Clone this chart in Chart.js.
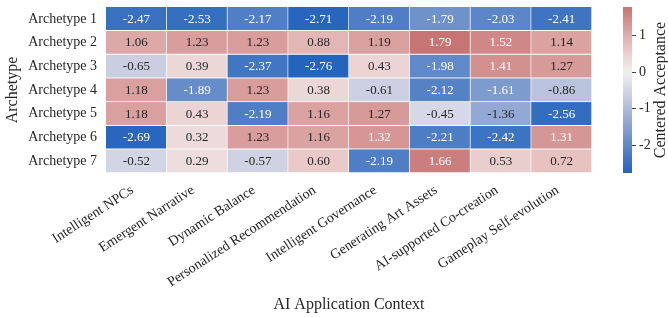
<!DOCTYPE html>
<html>
<head>
<meta charset="utf-8">
<script src="https://cdn.jsdelivr.net/npm/chart.js@4.4.1/dist/chart.umd.min.js"></script>
<style>
  html, body { margin: 0; padding: 0; background: #fff; }
  #wrap { position: relative; width: 668px; height: 318px; }
  #chart { position: absolute; left: 0; top: 0; }
  #cbar { position: absolute; left: 612px; top: 0; }
</style>
</head>
<body>
<div id="wrap">
  <canvas id="chart" width="668" height="318"></canvas>
  <canvas id="cbar" width="56" height="318"></canvas>
</div>
<script>
/* ── Data ── */
const archetypes = ["Archetype 1", "Archetype 2", "Archetype 3", "Archetype 4", "Archetype 5", "Archetype 6", "Archetype 7"];
const contexts = ["Intelligent NPCs", "Emergent Narrative", "Dynamic Balance", "Personalized Recommendation",
  "Intelligent Governance", "Generating Art Assets", "AI-supported Co-creation", "Gameplay Self-evolution"];

const archetype1 = [-2.47, -2.53, -2.17, -2.71, -2.19, -1.79, -2.03, -2.41];
const archetype2 = [1.06, 1.23, 1.23, 0.88, 1.19, 1.79, 1.52, 1.14];
const archetype3 = [-0.65, 0.39, -2.37, -2.76, 0.43, -1.98, 1.41, 1.27];
const archetype4 = [1.18, -1.89, 1.23, 0.38, -0.61, -2.12, -1.61, -0.86];
const archetype5 = [1.18, 0.43, -2.19, 1.16, 1.27, -0.45, -1.36, -2.56];
const archetype6 = [-2.69, 0.32, 1.23, 1.16, 1.32, -2.21, -2.42, 1.31];
const archetype7 = [-0.52, 0.29, -0.57, 0.60, -2.19, 1.66, 0.53, 0.72];
const rows = [archetype1, archetype2, archetype3, archetype4, archetype5, archetype6, archetype7];

const cbarTicks = [-2, -1, 0, 1];

const VMIN = Math.min(...rows.flat());
const VMAX = Math.max(...rows.flat());
const VRANGE = Math.max(Math.abs(VMIN), Math.abs(VMAX)); // centered at 0

/* ── Diverging colormap (vlag-like) ── */
const cmapStops = [
  [0.000, [35, 100, 188]],
  [0.125, [88, 132, 198]],
  [0.250, [145, 167, 210]],
  [0.375, [198, 204, 224]],
  [0.500, [242, 239, 240]],
  [0.625, [232, 196, 195]],
  [0.750, [211, 146, 145]],
  [0.875, [190, 96, 96]],
  [1.000, [169, 55, 59]]
];
function cellColor(v) {
  const t = Math.min(1, Math.max(0, 0.5 + v / (2 * VRANGE)));
  for (let i = 1; i < cmapStops.length; i++) {
    const [t1, c1] = cmapStops[i];
    if (t <= t1) {
      const [t0, c0] = cmapStops[i - 1];
      const f = (t - t0) / (t1 - t0);
      const c = c0.map((x, k) => Math.round(x + (c1[k] - x) * f));
      return `rgb(${c[0]},${c[1]},${c[2]})`;
    }
  }
  const c = cmapStops[cmapStops.length - 1][1];
  return `rgb(${c[0]},${c[1]},${c[2]})`;
}

const FONT = "'Liberation Serif', 'Times New Roman', serif";
Chart.defaults.font.family = FONT;
Chart.defaults.color = "#262626";

/* ── Cell annotations ── */
const cellLabels = {
  id: "cellLabels",
  afterDatasetsDraw(chart) {
    const c = chart.ctx;
    c.save();
    c.font = "13px " + FONT;
    c.textAlign = "center";
    c.textBaseline = "middle";
    rows.forEach((vals, r) => {
      chart.getDatasetMeta(r).data.forEach((bar, j) => {
        const v = vals[j];
        c.fillStyle = (v <= -1.5 || v >= 1.3) ? "#ffffff" : "#262626";
        c.fillText(v.toFixed(2), bar.x, (bar.y + bar.base) / 2 + 0.5);
      });
    });
    c.restore();
  }
};

/* ── Heatmap (floating bars, one dataset per archetype) ── */
new Chart(document.getElementById("chart"), {
  type: "bar",
  data: {
    labels: contexts,
    datasets: rows.map((vals, r) => ({
      label: archetypes[r],
      data: vals.map(() => [r, r + 1]),
      backgroundColor: vals.map(cellColor),
      borderColor: "#ffffff",
      borderWidth: { top: 0, left: 0, right: 1, bottom: 1 },
      borderSkipped: false,
      barPercentage: 1,
      categoryPercentage: 1,
      grouped: false
    }))
  },
  options: {
    responsive: false,
    devicePixelRatio: 1,
    animation: false,
    layout: { padding: { left: 0, top: 7, right: 76, bottom: 0 } },
    plugins: { legend: { display: false }, tooltip: { enabled: false } },
    scales: {
      x: {
        type: "category",
        grid: { display: false, drawTicks: false },
        border: { display: false },
        ticks: { autoSkip: false, maxRotation: 33, minRotation: 33, padding: 9, labelOffset: -4, font: { size: 14 } },
        title: { display: true, text: "AI Application Context", font: { size: 16 }, padding: { top: 0, bottom: 4 } },
        afterFit: s => { s.height = 145; }
      },
      y: {
        type: "linear",
        min: 0, max: rows.length,
        reverse: true,
        grid: { display: false, drawTicks: false },
        border: { display: false },
        afterBuildTicks: s => { s.ticks = archetypes.map((_, i) => ({ value: i + 0.5 })); },
        ticks: { padding: 9, font: { size: 14 }, callback: v => archetypes[Math.floor(v)] },
        title: { display: true, text: "Archetype", font: { size: 16 }, padding: { top: 3, bottom: 0 } },
        afterFit: s => { s.width = 106; s.paddingTop = 0; s.paddingBottom = 0; }
      }
    }
  },
  plugins: [cellLabels]
});

/* ── Colorbar ── */
const cbarTitle = {
  id: "cbarTitle",
  afterDraw(chart) {
    const c = chart.ctx;
    c.save();
    c.translate(49, 90);
    c.rotate(-Math.PI / 2);
    c.font = "16px " + FONT;
    c.fillStyle = "#262626";
    c.textAlign = "center";
    c.textBaseline = "middle";
    c.fillText("Centered Acceptance", 0, 0);
    c.restore();
  }
};

new Chart(document.getElementById("cbar"), {
  type: "bar",
  data: {
    labels: [""],
    datasets: [{
      data: [[VMIN, VMAX]],
      backgroundColor: ctx => {
        const chart = ctx.chart;
        if (!chart.chartArea) return null;
        const y = chart.scales.y;
        const g = chart.ctx.createLinearGradient(0, y.getPixelForValue(VMIN), 0, y.getPixelForValue(VMAX));
        for (let k = 0; k <= 40; k++) {
          g.addColorStop(k / 40, cellColor(VMIN + (VMAX - VMIN) * k / 40));
        }
        return g;
      },
      borderWidth: 0,
      barPercentage: 1,
      categoryPercentage: 1
    }]
  },
  options: {
    responsive: false,
    devicePixelRatio: 1,
    animation: false,
    layout: { padding: { left: 11, top: 7, right: 0, bottom: 145 } },
    plugins: { legend: { display: false }, tooltip: { enabled: false } },
    scales: {
      x: { display: false },
      y: {
        position: "right",
        min: VMIN, max: VMAX,
        afterBuildTicks: s => { s.ticks = cbarTicks.map(v => ({ value: v })); },
        grid: { display: true, drawOnChartArea: false, drawTicks: true, tickLength: 4, color: "#444" },
        border: { display: false },
        ticks: { padding: 3, font: { size: 14 }, callback: v => String(v) },
        afterFit: s => { s.width = 36; s.paddingTop = 0; s.paddingBottom = 0; }
      }
    }
  },
  plugins: [cbarTitle]
});
</script>
</body>
</html>
